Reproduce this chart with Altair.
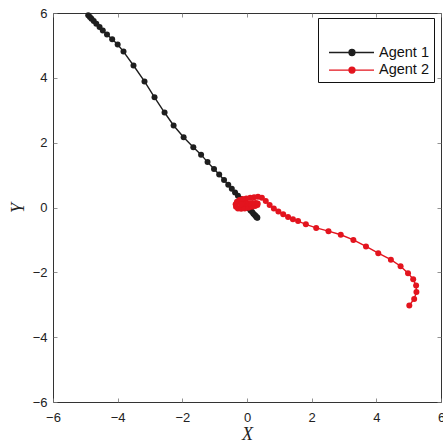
import altair as alt
import pandas as pd

# Agent trajectories (x, y), in time order
agent1_x = [-4.91, -4.86, -4.81, -4.74, -4.66, -4.56, -4.46, -4.33, -4.17, -4.00, -3.82,
            -3.51, -3.17, -2.86, -2.55, -2.27, -1.96, -1.66, -1.42, -1.22, -1.02, -0.86,
            -0.71, -0.58, -0.47, -0.37, -0.28, -0.20, -0.13, -0.06, 0.00, 0.06, 0.11,
            0.16, 0.20, 0.24, 0.27, 0.29, 0.31, 0.32]
agent1_y = [5.93, 5.88, 5.82, 5.75, 5.67, 5.57, 5.46, 5.34, 5.19, 5.03, 4.81,
            4.38, 3.89, 3.40, 2.93, 2.53, 2.17, 1.86, 1.63, 1.40, 1.19, 1.02,
            0.85, 0.70, 0.58, 0.46, 0.36, 0.27, 0.19, 0.11, 0.04, -0.03, -0.09,
            -0.14, -0.19, -0.23, -0.26, -0.29, -0.31, -0.32]

agent2_x = [5.02, 5.17, 5.24, 5.23, 5.14, 4.98, 4.75, 4.45, 4.06, 3.68, 3.29, 2.90,
            2.52, 2.14, 1.82, 1.58, 1.42, 1.27, 1.12, 0.97, 0.83, 0.70, 0.58, 0.46,
            0.34, 0.22, 0.10, -0.02, -0.13, -0.23, -0.31, -0.35, -0.34, -0.28, -0.18,
            -0.07, 0.04, 0.15, 0.25, 0.32, 0.33, 0.27, 0.17, 0.07, -0.03, -0.12, -0.18]
agent2_y = [-3.02, -2.82, -2.61, -2.41, -2.21, -2.03, -1.81, -1.61, -1.41, -1.20, -1.00, -0.84,
            -0.73, -0.63, -0.52, -0.42, -0.36, -0.29, -0.21, -0.12, -0.03, 0.08, 0.20, 0.30,
            0.33, 0.32, 0.30, 0.28, 0.26, 0.23, 0.18, 0.10, 0.02, -0.03, -0.04,
            -0.03, -0.01, 0.02, 0.05, 0.08, 0.12, 0.14, 0.14, 0.13, 0.12, 0.11, 0.10]

agent_names = ["Agent 1", "Agent 2"]
agent_colors = ["#1e1e1e", "#e3141e"]
tick_values = [-6, -4, -2, 0, 2, 4, 6]

rows = []
for name, xs, ys in [(agent_names[0], agent1_x, agent1_y), (agent_names[1], agent2_x, agent2_y)]:
    for i, (x, y) in enumerate(zip(xs, ys)):
        rows.append({"agent": name, "step": i, "x": x, "y": y})
df = pd.DataFrame(rows)

W, H = 388, 389
xscale = alt.Scale(domain=[-6, 6], nice=False, zero=False)
yscale = alt.Scale(domain=[-6, 6], nice=False, zero=False)

# legend glyph: a short line with a dot on it
glyph = "M-0.33,0H5.67M2.33,0A0.4,0.4,0,1,1,3.13,0A0.4,0.4,0,1,1,2.33,0Z"
color = alt.Color(
    "agent:N",
    scale=alt.Scale(domain=agent_names, range=agent_colors),
    legend=alt.Legend(
        title=" ",
        titleFontSize=16,
        titlePadding=5,
        orient="none",
        legendX=265,
        legendY=5,
        fillColor="white",
        strokeColor="#111111",
        padding=5,
        rowPadding=2.6,
        labelFont="Liberation Sans",
        labelFontSize=14.5,
        labelColor="#111111",
        labelOffset=39,
        symbolType=glyph,
        symbolSize=225,
        symbolStrokeWidth=1.3,
        symbolOpacity=1,
    ),
)

label_axis_x = alt.Axis(values=tick_values, ticks=False, domain=False, grid=False,
                        labelFlush=False, labelFont="Liberation Sans", labelFontSize=13,
                        labelColor="#222222", labelPadding=9, title="X",
                        titleFont="Liberation Serif", titleFontStyle="italic",
                        titleFontWeight="normal", titleFontSize=18, titleColor="#222222",
                        titlePadding=1)
label_axis_y = alt.Axis(values=tick_values, ticks=False, domain=False, grid=False,
                        labelFlush=False, labelFont="Liberation Sans", labelFontSize=13,
                        labelColor="#222222", labelPadding=6, title="Y",
                        titleFont="Liberation Serif", titleFontStyle="italic",
                        titleFontWeight="normal", titleFontSize=18, titleColor="#222222",
                        titlePadding=5)

line = alt.Chart(df).mark_line(strokeWidth=1.4).encode(
    x=alt.X("x:Q", scale=xscale, axis=label_axis_x),
    y=alt.Y("y:Q", scale=yscale, axis=label_axis_y),
    color=color,
    order=alt.Order("step:Q"),
    detail="agent:N",
)
dots = alt.Chart(df).mark_circle(size=36, opacity=1).encode(
    x=alt.X("x:Q", scale=xscale, axis=None),
    y=alt.Y("y:Q", scale=yscale, axis=None),
    color=color,
)


def tick_axis(orient):
    # inward ticks: an unlabeled axis pulled into the plot by its tick length
    return alt.Axis(orient=orient, values=tick_values, labels=False, domain=False,
                    grid=False, title=None, ticks=True, tickSize=4, offset=-4,
                    tickColor="#777777", tickWidth=0.8)


def tick_layer(xo, yo):
    return alt.Chart(df).mark_point(opacity=0).encode(
        x=alt.X("x:Q", scale=xscale, axis=tick_axis(xo)),
        y=alt.Y("y:Q", scale=yscale, axis=tick_axis(yo)),
    )


chart = alt.layer(
    line, dots, tick_layer("bottom", "left"), tick_layer("top", "right")
).resolve_axis(
    x="independent", y="independent"
).properties(
    width=W,
    height=H,
    autosize=alt.AutoSizeParams(type="none"),
    padding={"left": 53, "top": 13, "right": 2, "bottom": 43},
    background="white",
).configure_view(
    stroke="#333333", strokeWidth=1
)

chart.save("out.html", embed_options={"renderer": "svg", "actions": False})
